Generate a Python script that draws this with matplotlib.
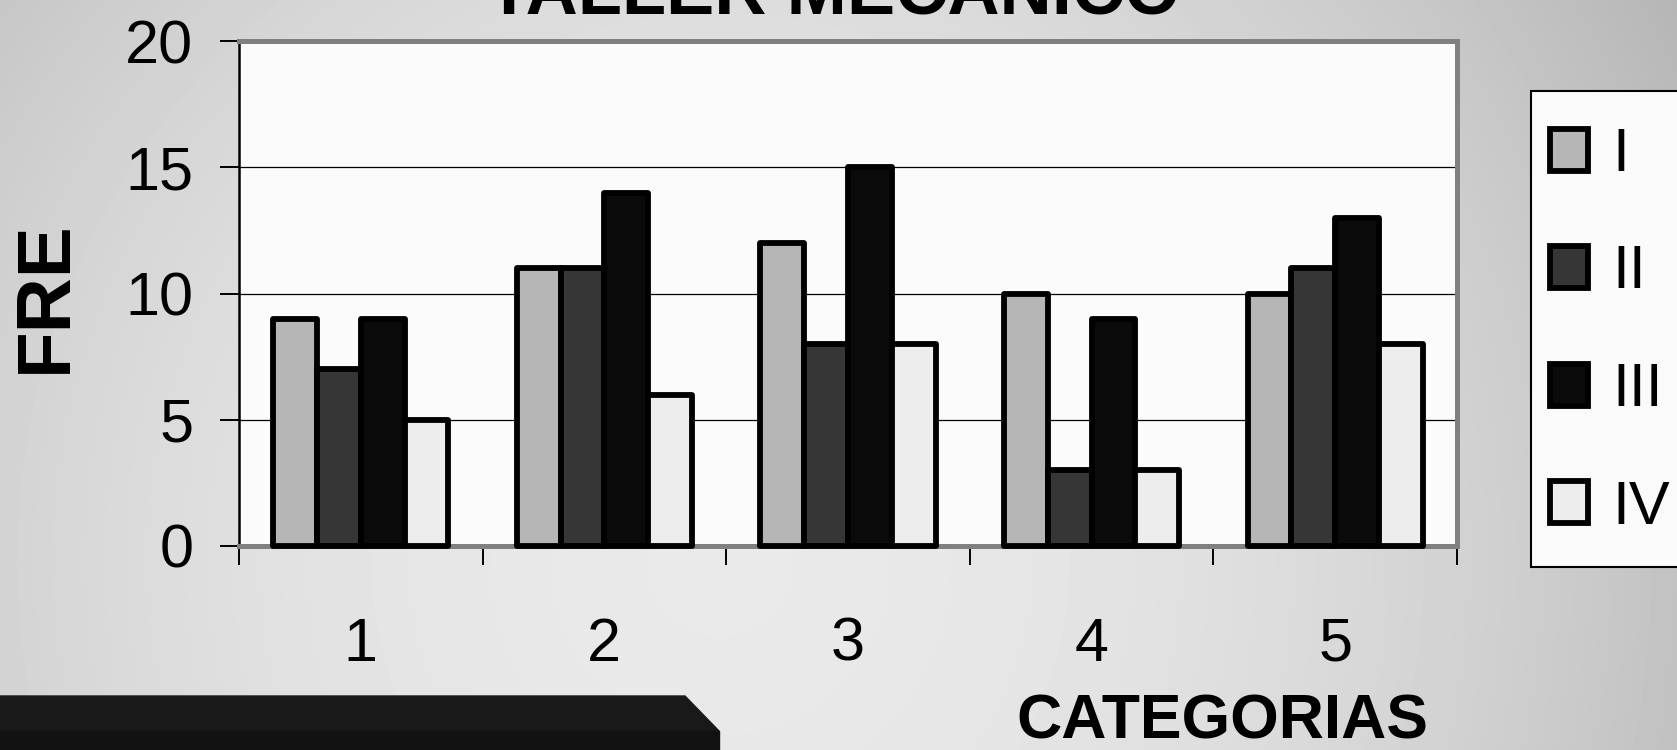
import matplotlib
matplotlib.use('Agg')
import matplotlib.pyplot as plt
import numpy as np
from matplotlib.patches import Polygon, Rectangle

plt.rcParams['font.family'] = ['Liberation Sans', 'DejaVu Sans']

# datos del grafico
categorias = [1, 2, 3, 4, 5]
series = ['I', 'II', 'III', 'IV']
serie_I = [9, 11, 12, 10, 10]
serie_II = [7, 11, 8, 3, 11]
serie_III = [9, 14, 15, 9, 13]
serie_IV = [5, 6, 8, 3, 8]
colores = ['#b6b6b6', '#363636', '#0a0a0a', '#ededed']

W, H = 1677, 750
fig = plt.figure(figsize=(W / 100, H / 100), dpi=100)

# fondo degradado gris
bg = fig.add_axes([0, 0, 1, 1], zorder=-10)
yy, xx = np.mgrid[0:H, 0:W]
d2 = ((xx - 720) / 880) ** 2 + ((yy - 560) / 900) ** 2
bg.imshow(0.915 - 0.13 * d2, cmap='gray', vmin=0, vmax=1, aspect='auto')
bg.axis('off')

# pasa de pixeles a fraccion de figura
def fp(x, y):
    return (x / W, 1 - y / H)

# barra oscura abajo a la izquierda
fig.patches.append(Polygon([fp(0, 696), fp(685, 696), fp(719, 731), fp(719, 750), fp(0, 750)],
                           closed=True, transform=fig.transFigure, color='#191919', zorder=-5))
fig.patches.append(Polygon([fp(0, 731), fp(719, 731), fp(719, 750), fp(0, 750)],
                           closed=True, transform=fig.transFigure, color='#121212', zorder=-4))

# recuadro de la leyenda (sale por el borde derecho)
fig.patches.append(Rectangle(fp(1531, 567), 200 / W, (567 - 91) / H, transform=fig.transFigure,
                             facecolor='#fafafa', edgecolor='black', linewidth=1.5, zorder=-1))

# grafico principal
ax = fig.add_axes([239 / W, 1 - 546 / H, (1457 - 239) / W, (546 - 41) / H])
ax.set_facecolor('#fbfbfb')

x = np.arange(1, 6)
ancho = 0.18
valores = [serie_I, serie_II, serie_III, serie_IV]
for i, (v, c, s) in enumerate(zip(valores, colores, series)):
    ax.bar(x + (i - 1.5) * ancho, v, ancho, color=c, edgecolor='black', linewidth=4.2,
           label=s, zorder=3, clip_on=False, joinstyle='round')

ax.set_xlim(0.5, 5.5)
ax.set_ylim(0, 20)
ax.set_yticks([0, 5, 10, 15, 20])
ax.set_xticks(x)
ax.set_xticklabels([str(c) for c in categorias])
ax.set_xticks(np.arange(0.5, 6), minor=True)
ax.yaxis.grid(True, color='black', linewidth=0.9)
ax.set_axisbelow(True)

ax.tick_params(axis='y', length=14, width=1.4, pad=19, labelsize=44)
ax.tick_params(axis='x', which='major', length=0, pad=51, labelsize=44)
ax.tick_params(axis='x', which='minor', length=14, width=1.4)

for lado in ['top', 'right', 'bottom']:
    ax.spines[lado].set_color('#808080')
    ax.spines[lado].set_linewidth(3.6)
ax.spines['left'].set_color('black')
ax.spines['left'].set_linewidth(1.8)

ax.set_title('TALLER MECANICO', fontsize=52, fontweight='bold', x=0.4885, y=1 + 28 / 505,
             va='baseline', pad=0)
ax.set_xlabel('CATEGORIAS', fontsize=45, fontweight='bold', va='center')
ax.xaxis.set_label_coords((1222 - 239) / 1218, -(722 - 546) / 505)
ax.set_ylabel('FRE', fontsize=55, fontweight='bold', va='center')
ax.yaxis.set_label_coords((46 - 239) / 1218, (546 - 297) / 505)

leg = ax.legend(loc='upper left', bbox_to_anchor=fp(1550, 127),
                bbox_transform=fig.transFigure, borderaxespad=0, frameon=False,
                fontsize=44, handlelength=0.62, handleheight=0.68, handletextpad=0.4,
                labelspacing=0.99, borderpad=0)

fig.savefig('out.png', dpi=100)
